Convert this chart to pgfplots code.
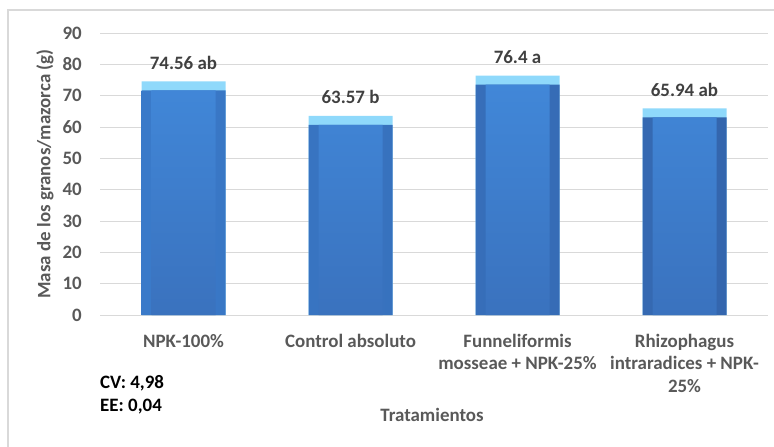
\documentclass[border=0pt]{standalone}
\usepackage{fontspec}
\setmainfont{Carlito}
\usepackage{pgfplots}
\usepackage{pgfplotstable}
\pgfplotsset{compat=1.18}

\definecolor{txtgray}{HTML}{595959}
\definecolor{lblgray}{HTML}{404040}
\definecolor{gridgray}{HTML}{D9D9D9}
\definecolor{capblue}{HTML}{8FD9FB}
\definecolor{sideL}{HTML}{3A7AC9}
\definecolor{sideR}{HTML}{3466AE}
\definecolor{bodyTop}{HTML}{4187D8}
\definecolor{bodyBot}{HTML}{3A72BE}

% masa de granos por tratamiento, con la letra de la prueba de medias
\pgfplotstableread[col sep=comma]{
x,v,lab
0,74.56,74.56 ab
1,63.57,63.57 b
2,76.4,76.4 a
3,65.94,65.94 ab
}\datos

\newcommand{\lblfont}{\bfseries\fontsize{19}{22.5}\selectfont}

\begin{document}
\begin{tikzpicture}
\begin{axis}[
  at={(0,0)}, anchor=south west,
  scale only axis, width=668bp, height=282bp,
  xmin=-0.5, xmax=3.5, ymin=0, ymax=90,
  xtick={0,1,2,3},
  xticklabels={{NPK-100\%},{Control absoluto},{Funneliformis\\mosseae + NPK-25\%},{Rhizophagus\\intraradices + NPK-\\25\%}},
  ytick={0,10,...,90},
  ymajorgrids, grid style={draw=gridgray, line width=1bp},
  axis line style={draw=none}, major tick length=0pt,
  /pgf/number format/assume math mode=true,
  tick label style={font=\lblfont, text=txtgray},
  yticklabel style={anchor=east, inner sep=0pt, xshift=-18bp},
  xticklabel style={anchor=north, inner sep=0pt, yshift=-19bp, align=center},
  ylabel={Masa de los granos/mazorca (g)},
  every axis y label/.style={at={([xshift=-55bp]axis description cs:0,0.5)}, rotate=90, anchor=center, font=\lblfont, text=txtgray},
  xlabel={Tratamientos},
  every axis x label/.style={at={([xshift=-2bp,yshift=-100bp]axis description cs:0.5,0)}, anchor=center, font=\lblfont, text=txtgray},
  clip=false,
]
% cara superior clara de cada barra, con su etiqueta
\addplot[ybar, bar shift=0pt, bar width=84bp, fill=capblue, draw=none,
  point meta=explicit symbolic,
  nodes near coords,
  every node near coord/.append style={anchor=base, yshift=12bp, font=\lblfont, text=lblgray}]
  table[x=x, y=v, meta=lab]{\datos};
% biseles laterales
\addplot[ybar, bar shift=0pt, bar width=84bp, draw=none, left color=sideL, right color=sideR]
  table[x=x, y expr=\thisrow{v}-2.9]{\datos};
% cara frontal
\addplot[ybar, bar shift=0pt, bar width=64bp, draw=none, top color=bodyTop, bottom color=bodyBot]
  table[x=x, y expr=\thisrow{v}-2.9]{\datos};
\end{axis}
\node[anchor=base west, inner sep=0pt, font=\lblfont, text=black] at (0bp,-73bp) {CV: 4,98};
\node[anchor=base west, inner sep=0pt, font=\lblfont, text=black] at (0bp,-96bp) {EE: 0,04};
\draw[gridgray, line width=1.5bp] (-92bp,-132bp) -- (-92bp,305bp) -- (674bp,305bp);
\pgfresetboundingbox
\path (-100bp,-132bp) rectangle (674bp,315bp);
\end{tikzpicture}
\end{document}
